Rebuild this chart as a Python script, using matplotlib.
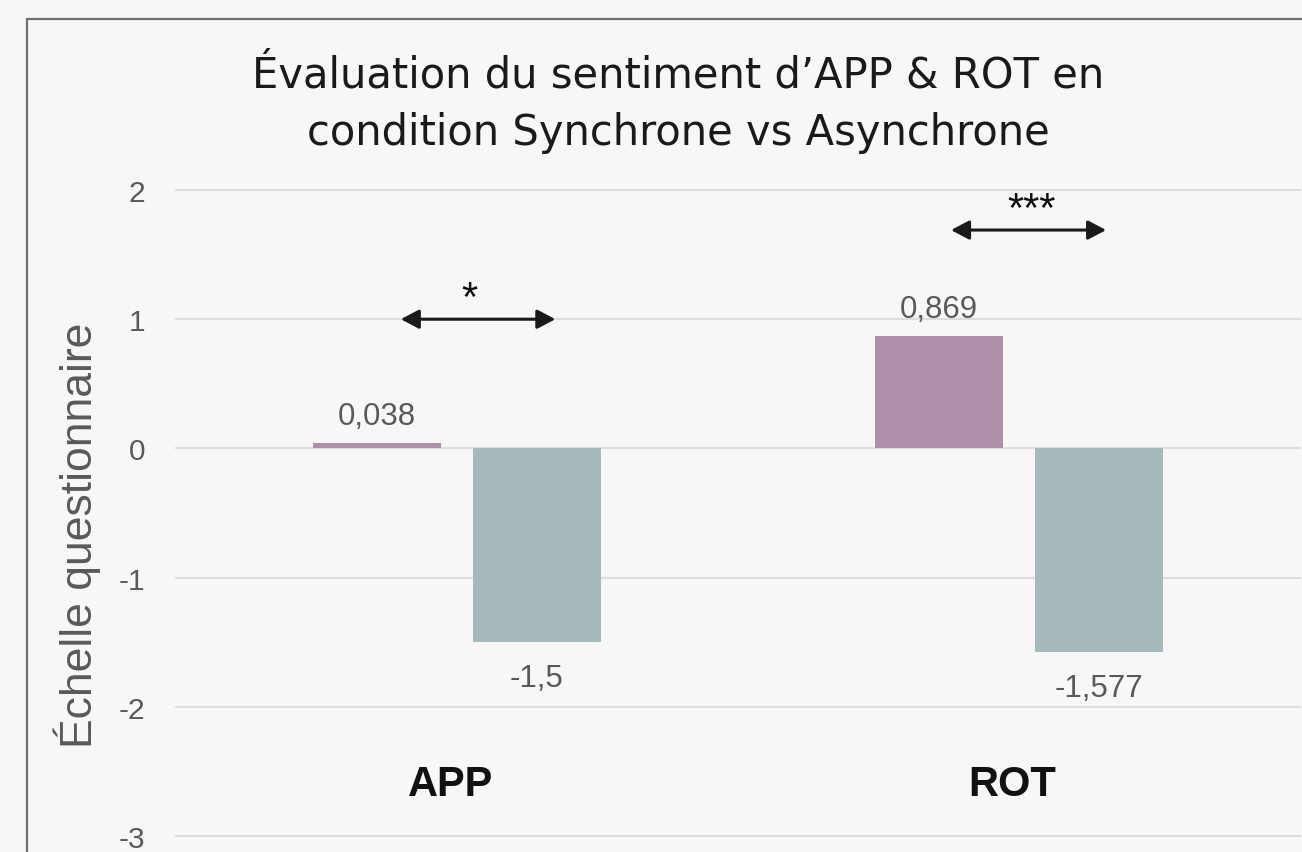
import matplotlib.pyplot as plt
from matplotlib.patches import Rectangle
import numpy as np

# data
categories = ['APP', 'ROT']
synchrone = [0.038, 0.869]
asynchrone = [-1.5, -1.577]
sync_labels = ['0,038', '0,869']
async_labels = ['-1,5', '-1,577']
signif = ['*', '***']
arrow_y = [1.0, 1.69]
yticks = [-3, -2, -1, 0, 1, 2]
title_lines = ['Évaluation du sentiment d\u2019APP & ROT en',
               'condition Synchrone vs Asynchrone']

# layout: arrow ends relative to the category centre
arrow_span = [(-0.1, 0.175), (-0.121, 0.155)]

bg = '#f7f7f7'
c_sync = '#b08fab'
c_async = '#a7babb'
grey_txt = '#595959'
W, H = 1302, 853

fig = plt.figure(figsize=(W / 100, H / 100), dpi=100, facecolor=bg)
ax = fig.add_axes([176 / W, 16 / H, 1124 / W, 646 / H])
ax.set_facecolor(bg)

x = np.arange(len(categories))
w = 0.228
off = 0.142
ax.bar(x - off, synchrone, width=w, color=c_sync, zorder=3)
ax.bar(x + off, asynchrone, width=w, color=c_async, zorder=3)

for i in range(len(categories)):
    # value labels
    ax.annotate(sync_labels[i], (x[i] - off, synchrone[i]), xytext=(0, 9),
                textcoords='offset points', ha='center', va='bottom',
                fontsize=22.5, color=grey_txt, family='Liberation Sans')
    ax.annotate(async_labels[i], (x[i] + off, asynchrone[i]), xytext=(0, -15),
                textcoords='offset points', ha='center', va='top',
                fontsize=22.5, color=grey_txt, family='Liberation Sans')
    # category name inside the plot
    ax.text(x[i] - 0.012, -2.6, categories[i], ha='center', va='center',
            fontsize=30, fontweight='bold', color='#111111', family='Liberation Sans')
    # significance arrows
    a0, a1 = arrow_span[i]
    ax.annotate('', xy=(x[i] + a0, arrow_y[i]), xytext=(x[i] + a1, arrow_y[i]),
                arrowprops=dict(arrowstyle='<|-|>,head_length=1.1,head_width=0.58',
                                color='#1a1a1a', lw=2.2, shrinkA=0, shrinkB=0),
                zorder=4)
    ax.text(x[i] + 0.022, arrow_y[i] + 0.07, signif[i], ha='center',
            va='baseline', fontsize=30, color='#111111', family='Liberation Sans')

ax.set_xlim(-0.5, 1.5)
ax.set_ylim(-3, 2)
ax.set_yticks(yticks)
ax.set_yticklabels([str(t) for t in yticks], fontsize=21.5, color=grey_txt,
                   family='Liberation Sans')
ax.set_xticks([])
ax.tick_params(axis='y', length=0, pad=22)
ax.grid(axis='y', color='#dddddd', lw=1.5, zorder=0)
for g in ax.get_ygridlines():
    g.set_clip_on(False)
for s in ax.spines.values():
    s.set_visible(False)

fig.text(77 / W, 1 - 535 / H, 'Échelle questionnaire', rotation=90,
         ha='center', va='center', fontsize=32, color=grey_txt,
         family='Liberation Sans')

fig.text(678 / W, 1 - 87 / H, title_lines[0], ha='center', va='baseline',
         fontsize=30, color='#1a1a1a', family='DejaVu Sans')
fig.text(678 / W, 1 - 145 / H, title_lines[1], ha='center', va='baseline',
         fontsize=30, color='#1a1a1a', family='DejaVu Sans')

# outer frame, cut off at the right and bottom like the screenshot
fig.patches.append(Rectangle((27 / W, -0.2), 2, 0.2 + 833 / H, fill=False,
                             edgecolor='#707070', lw=1.6, transform=fig.transFigure))

fig.savefig('out.png', dpi=100, facecolor=bg)
